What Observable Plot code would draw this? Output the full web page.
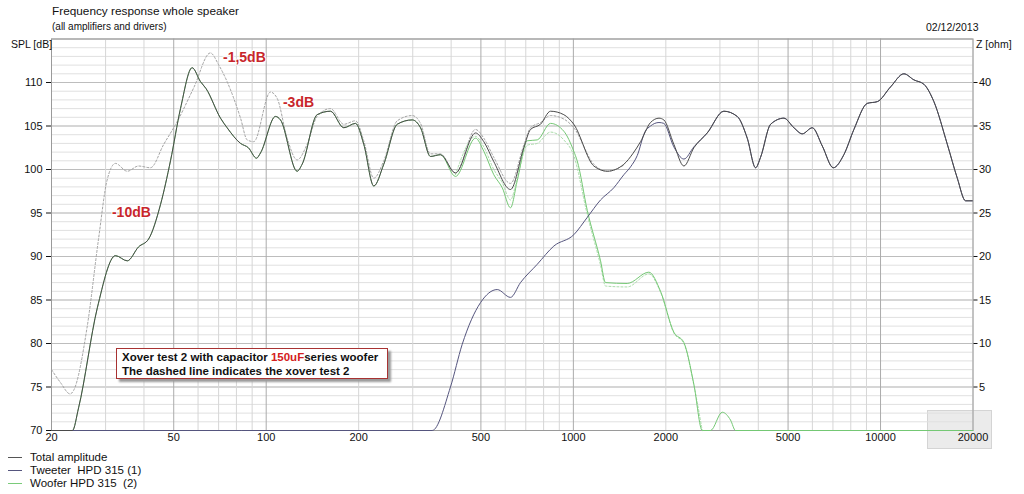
<!DOCTYPE html>
<html>
<head>
<meta charset="utf-8">
<script src="https://cdn.jsdelivr.net/npm/d3@7"></script>
<script src="https://cdn.jsdelivr.net/npm/@observablehq/plot@0.6"></script>
<style>
  body { margin: 0; background: #fff; font-family: "Liberation Sans", Arial, sans-serif; color: #111; }
  #wrap { position: relative; width: 1024px; height: 494px; overflow: hidden; }
  .t { position: absolute; white-space: nowrap; }
  #chart { position: absolute; left: 0; top: 0; }
  .note { position: absolute; left: 116px; top: 348px; width: 272px; height: 31px; background: #fff;
          border: 1.5px solid #a83232; box-shadow: 3px 3px 2px #9a9a9a; font-size: 11.5px; font-weight: bold;
          line-height: 14px; padding: 1px 0 0 5px; box-sizing: border-box; }
  .leg { position: absolute; left: 8px; font-size: 11.5px; }
  .leg span { display: inline-block; width: 14px; height: 0; border-top: 1px solid; vertical-align: middle; margin-right: 8px; }
</style>
</head>
<body>
<div id="wrap">
  <div style="position:absolute;left:927px;top:410px;width:63px;height:37px;background:#ebebeb;border:1px solid #d4d4d4"></div>
  <div id="chart"></div>
  <div class="t" style="left:52px;top:4px;font-size:11.8px">Frequency response whole speaker</div>
  <div class="t" style="left:52px;top:21px;font-size:10px">(all amplifiers and drivers)</div>
  <div class="t" style="left:11px;top:38px;font-size:10.5px">SPL [dB]</div>
  <div class="t" style="left:926px;top:21px;font-size:10.5px">02/12/2013</div>
  <div class="t" style="left:976px;top:38px;font-size:10.5px">Z [ohm]</div>
  <div class="note">Xover test 2 with capacitor <span style="color:#d42020">150uF</span>series woofer<br>The dashed line indicates the xover test 2</div>
  <div class="leg" style="top:451px"><span style="border-color:#555"></span>Total amplitude</div>
  <div class="leg" style="top:464px"><span style="border-color:#55557e"></span>Tweeter&nbsp; HPD 315 (1)</div>
  <div class="leg" style="top:477px"><span style="border-color:#7acb7a"></span>Woofer HPD 315&nbsp; (2)</div>
</div>
<script>
// total amplitude (solid)
const totalF = [20, 23.4, 24.5, 28.2, 32.3, 35.3, 38.4, 41.4, 45.3, 48.8, 52.6, 57.4, 61.1, 63.7, 71.0, 74.6,
  82.5, 87.5, 93.0, 95.8, 107.2, 111.3, 126.1, 130.9, 146.5, 161.9, 178.9, 195.3, 207.8, 224, 241.4, 267,
  298.8, 318, 342.6, 369.4, 413.2, 480.2, 511, 550.8, 624.2, 689.6, 725.2, 781.6, 842.6, 931, 1003, 1166,
  1289, 1460, 1560, 1655, 1783, 1900, 1970, 2124, 2290, 2468, 2728, 3090, 3416, 3682, 3920, 4068, 4386,
  4846, 5224, 5562, 5996, 6462, 7018, 7596, 8190, 9054, 9762, 10784, 11914, 12844, 13840, 14918, 16496,
  17780, 18920, 19894]
const totalDb = [70, 70, 72.6, 84.1, 90.1, 89.5, 91.1, 92.0, 96, 101, 107, 111.7, 110.1, 109.3, 105.9, 104.8,
  103.0, 102.5, 101.3, 101.9, 106.1, 105.7, 99.8, 100.6, 106.3, 106.7, 104.8, 105.3, 102.9, 98.1, 100.6, 105.2,
  105.7, 104.8, 101.5, 101.7, 99.6, 104.2, 103.2, 100.9, 97.7, 102.5, 104.6, 105.2, 106.7, 106.3, 105.2, 100.4,
  99.8, 100.6, 101.8, 103.2, 105.4, 105.9, 105.7, 102.9, 100.4, 102.5, 104.2, 106.7, 106.1, 103.6, 100.2, 101.4, 105.2,
  105.9, 104.8, 104.1, 104.8, 102.7, 100.2, 101.7, 104.6, 107.6, 107.8, 109.5, 111.0, 110.3, 109.8, 107.8, 102.9,
  99.0, 96.4, 96.4]

// xover test 2 (dashed grey)
const test2F = [20, 21.4, 23.0, 23.6, 26.1, 28.5, 30.3, 32.3, 35.3, 38.4, 42.0, 46.4, 51.3, 58.1, 65.8, 70.1,
  74.6, 82.5, 86.7, 91.1, 103.2, 108.5, 117.0, 126.1, 135.9, 146.5, 161.9, 178.9, 195.3, 207.8, 224, 241.4,
  267, 298.8, 318, 342.6, 369.4, 413.2, 480.2, 511, 550.8, 624.2, 689.6, 725.2, 781.6, 842.6, 931, 1003,
  1166, 1289, 1460]
const test2Db = [77.0, 75.5, 74.2, 74.6, 81.8, 92.2, 98.7, 100.7, 99.8, 100.4, 100.2, 102.9, 105.5, 109.4, 113.4, 112.0,
  110.1, 105.9, 103.4, 103.2, 108.9, 108.2, 103.6, 101.1, 102.9, 106.1, 107.0, 105.2, 105.6, 103.3, 99.0, 101.0,
  105.6, 106.2, 105.3, 101.8, 101.8, 99.6, 104.6, 103.6, 101.4, 98.4, 102.8, 104.8, 105.4, 106.2, 105.8, 104.8,
  100.6, 99.8, 100.5]

// tweeter (own part, coincides with total above 2.5 kHz)
const tweeterF = [20, 347, 398, 434.6, 498.6, 565, 624.2, 672.8, 762.6, 863.8, 1003, 1110, 1226, 1354, 1460,
  1535, 1614, 1709, 1783, 1900, 1970, 2124, 2290, 2468]
const tweeterDb = [70, 70, 75.0, 79.9, 84.7, 86.2, 85.3, 87.0, 89.1, 91.2, 92.5, 94.5, 96.5, 97.9, 99.4,
  100.3, 101.6, 104.3, 105.0, 105.4, 105.3, 102.6, 101.2, 102.6]

// woofer (own part, coincides with total below 400 Hz)
const wooferF = [413.2, 480.2, 511, 550.8, 586.8, 624.2, 656.4, 707.6, 762.6, 842.6, 931, 1003, 1029, 1110,
  1226, 1273, 1497, 1761, 1922, 2124, 2290, 2468, 2628, 2796, 3053, 3248, 3373, 20000]
const wooferDb = [99.2, 103.6, 102.1, 99.4, 97.9, 95.6, 98.7, 103.3, 103.4, 105.3, 104.4, 102.1, 101.0, 95.3,
  89.5, 87.0, 86.9, 88.2, 86.0, 81.3, 80.1, 75.3, 70, 70, 72.1, 71.2, 70, 70]

// woofer, xover test 2 (dashed green)
const woofer2F = [413.2, 480.2, 511, 550.8, 586.8, 624.2, 656.4, 707.6, 762.6, 842.6, 931, 1003, 1110, 1226,
  1273, 1497, 1761, 1922, 2124, 2290, 2468, 2628]
const woofer2Db = [99.4, 103.8, 102.6, 100.0, 98.5, 96.5, 99.0, 102.8, 103.0, 104.3, 103.4, 101.6, 94.8, 89.0,
  86.6, 86.5, 88.0, 85.9, 81.2, 80.0, 75.2, 70]

const xLabels = [20, 50, 100, 200, 500, 1000, 2000, 5000, 10000, 20000]
const zTicks = [5, 10, 15, 20, 25, 30, 35, 40]

const pts = (F, D) => F.map((f, i) => ({f, db: D[i]}))
const total = pts(totalF, totalDb)
const test2 = pts(test2F, test2Db)
const tweeter = pts(tweeterF, tweeterDb).concat(total.filter(d => d.f > 2500))
const woofer = total.filter(d => d.f < 400).concat(pts(wooferF, wooferDb))
const woofer2 = pts(woofer2F, woofer2Db)

const notes = [
  {f: 84.9, db: 112.9, text: "-1,5dB"},
  {f: 127.4, db: 107.7, text: "-3dB"},
  {f: 36.4, db: 95.0, text: "-10dB"}
]

// grid lines
const xGrid = []
;[10, 100, 1000, 10000].forEach(dec => d3.range(1, 10).forEach(m => {
  const v = dec * m
  if (v >= 20 && v <= 20000) xGrid.push({v, major: m === 1 || m === 5})
}))

const chart = Plot.plot({
  width: 1024,
  height: 450,
  marginLeft: 51,
  marginRight: 51.5,
  marginTop: 38.5,
  marginBottom: 20,
  style: {fontFamily: "Liberation Sans, Arial, sans-serif", fontSize: "11px", color: "#111", background: "transparent"},
  x: {type: "log", domain: [20, 20000], axis: null},
  y: {domain: [70, 115]},
  marks: [
    Plot.ruleY(d3.range(70, 116, 1), {stroke: "#e0e0e0"}),
    Plot.ruleY(d3.range(70, 116, 5), {stroke: "#bdbdbd"}),
    Plot.ruleX(xGrid.filter(d => !d.major), {x: "v", stroke: "#d6d6d6"}),
    Plot.ruleX(xGrid.filter(d => d.major), {x: "v", stroke: "#ababab"}),
    Plot.frame({stroke: "#9a9a9a"}),
    Plot.line(test2, {x: "f", y: "db", stroke: "#a2a2a2", strokeWidth: 1, strokeDasharray: "2,2", curve: "monotone-x"}),
    Plot.line(woofer2, {x: "f", y: "db", stroke: "#a9dca9", strokeWidth: 1, strokeDasharray: "2,2", curve: "monotone-x"}),
    Plot.line(woofer, {x: "f", y: "db", stroke: "#74c874", strokeWidth: 1, curve: "monotone-x"}),
    Plot.line(tweeter, {x: "f", y: "db", stroke: "#55557e", strokeWidth: 1, curve: "monotone-x"}),
    Plot.line(total, {x: "f", y: "db", stroke: "#4a4a4a", strokeWidth: 1, curve: "monotone-x"}),
    Plot.text(notes, {x: "f", y: "db", text: "text", fill: "#c8262b", fontSize: 14, fontWeight: "bold", stroke: "#fff", strokeWidth: 2}),
    // frequency labels under the frame
    Plot.text(xLabels, {x: d => d, frameAnchor: "bottom", dy: 10, text: d => String(d), fill: "#111", fontSize: 11}),
    Plot.axisY(d3.range(70, 111, 5), {anchor: "left", tickSize: 5, tickPadding: 4, label: null, fill: "#111"}),
    Plot.axisY(zTicks.map(z => z + 70), {anchor: "right", tickSize: 4, tickPadding: 2, tickFormat: d => d - 70, label: null, fill: "#111"})
  ]
})
document.getElementById("chart").append(chart)
</script>
</body>
</html>
